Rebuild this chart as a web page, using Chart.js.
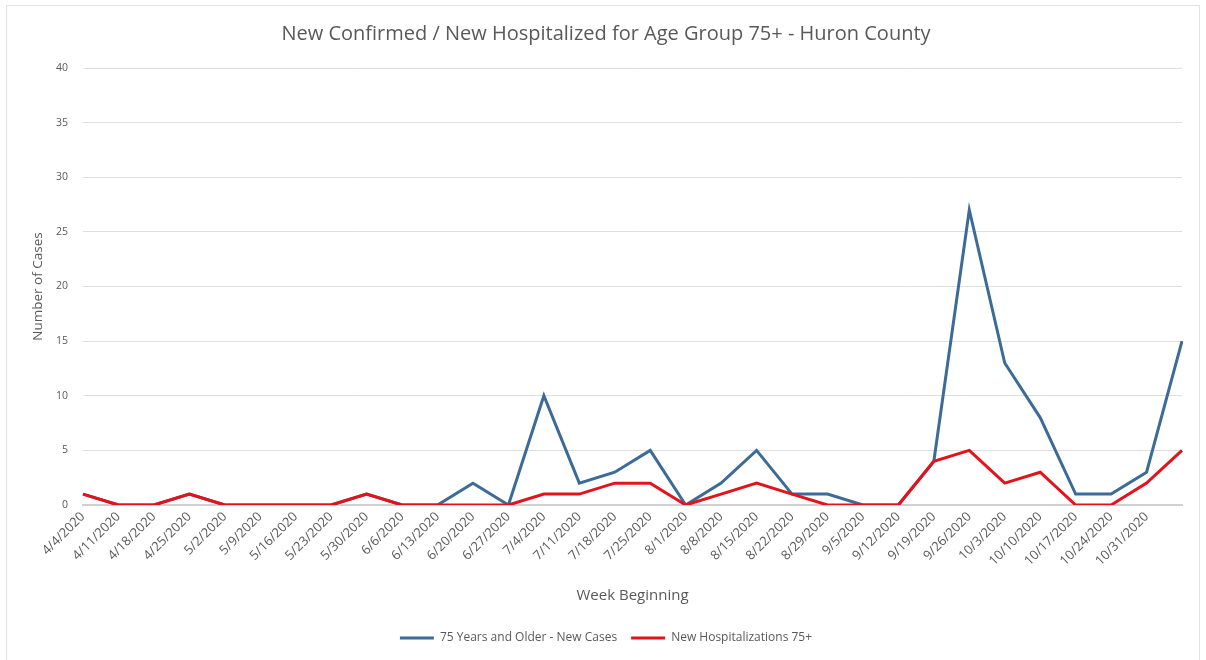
<!DOCTYPE html>
<html>
<head>
<meta charset="utf-8">
<script src="https://cdn.jsdelivr.net/npm/chart.js@4"></script>
<style>
  html, body { margin: 0; padding: 0; background: #fff; }
  #wrap { position: relative; width: 1206px; height: 660px; }
  #frame { position: absolute; left: 6px; top: 5px; width: 1194px; height: 660px; border: 1px solid #e2e2e2; box-sizing: border-box; pointer-events: none; }
</style>
</head>
<body>
<div id="wrap">
  <canvas id="canvas1" width="1206" height="660"></canvas>
  <div id="frame"></div>
</div>
<script>
const weeks = ["4/4/2020", "4/11/2020", "4/18/2020", "4/25/2020", "5/2/2020", "5/9/2020", "5/16/2020",
  "5/23/2020", "5/30/2020", "6/6/2020", "6/13/2020", "6/20/2020", "6/27/2020", "7/4/2020", "7/11/2020",
  "7/18/2020", "7/25/2020", "8/1/2020", "8/8/2020", "8/15/2020", "8/22/2020", "8/29/2020", "9/5/2020",
  "9/12/2020", "9/19/2020", "9/26/2020", "10/3/2020", "10/10/2020", "10/17/2020", "10/24/2020",
  "10/31/2020", "11/7/2020"];
const newCases = [1, 0, 0, 1, 0, 0, 0, 0, 1, 0, 0, 2, 0, 10, 2, 3, 5, 0, 2, 5, 1, 1, 0, 0, 4, 27, 13, 8, 1, 1, 3, 15];
const newHosp = [1, 0, 0, 1, 0, 0, 0, 0, 1, 0, 0, 0, 0, 1, 1, 2, 2, 0, 1, 2, 1, 0, 0, 0, 4, 5, 2, 3, 0, 0, 2, 5];
const yTicks = [0, 5, 10, 15, 20, 25, 30, 35, 40];

const ctx1 = document.getElementById("canvas1");
const textColor = "#595959";
const fontName = "'Open Sans', 'Noto Sans', sans-serif";

new Chart(ctx1, {
  type: "line",
  data: {
    labels: weeks,
    datasets: [
      {
        label: "75 Years and Older - New Cases",
        data: newCases,
        borderColor: "#3d6b98",
        backgroundColor: "#3d6b98",
        borderWidth: 3,
        pointRadius: 0,
        tension: 0,
        order: 2
      },
      {
        label: "New Hospitalizations 75+",
        data: newHosp,
        borderColor: "#e3131b",
        backgroundColor: "#e3131b",
        borderWidth: 3,
        pointRadius: 0,
        tension: 0,
        order: 1
      }
    ]
  },
  options: {
    responsive: false,
    animation: false,
    layout: { padding: { left: 30, right: 24, top: 22, bottom: 6 } },
    plugins: {
      title: {
        display: true,
        text: "New Confirmed / New Hospitalized for Age Group 75+ - Huron County",
        color: textColor,
        font: { family: fontName, size: 20, weight: "normal" },
        padding: { top: 0, bottom: 22 }
      },
      legend: {
        position: "bottom",
        labels: {
          color: textColor,
          font: { family: fontName, size: 12 },
          usePointStyle: true,
          pointStyle: "line",
          pointStyleWidth: 34,
          padding: 14,
          sort: (a, b) => a.datasetIndex - b.datasetIndex
        }
      },
      tooltip: { enabled: false }
    },
    scales: {
      x: {
        offset: false,
        grid: { display: false, drawTicks: false },
        border: { display: true, color: "#d0d0d0", width: 2 },
        ticks: {
          color: textColor,
          font: { family: fontName, size: 13 },
          maxRotation: 45,
          minRotation: 45,
          autoSkip: false,
          padding: 4,
          callback: function (value, index) {
            return index === weeks.length - 1 ? "" : weeks[index];
          }
        },
        title: {
          display: true,
          text: "Week Beginning",
          color: textColor,
          font: { family: fontName, size: 15 },
          padding: { top: 6, bottom: 13 }
        },
        afterFit: function (scale) { scale.height = 113; }
      },
      y: {
        min: 0,
        max: 40,
        afterBuildTicks: function (scale) { scale.ticks = yTicks.map(v => ({ value: v })); },
        grid: { color: "#dedede", lineWidth: 1, drawTicks: false },
        border: { display: false },
        ticks: {
          color: textColor,
          font: { family: fontName, size: 10.5 },
          padding: 15
        },
        title: {
          display: true,
          text: "Number of Cases",
          color: textColor,
          font: { family: fontName, size: 13.5 },
          padding: { top: 0, bottom: 4 }
        },
        afterFit: function (scale) { scale.width = 53; }
      }
    }
  }
});
</script>
</body>
</html>
